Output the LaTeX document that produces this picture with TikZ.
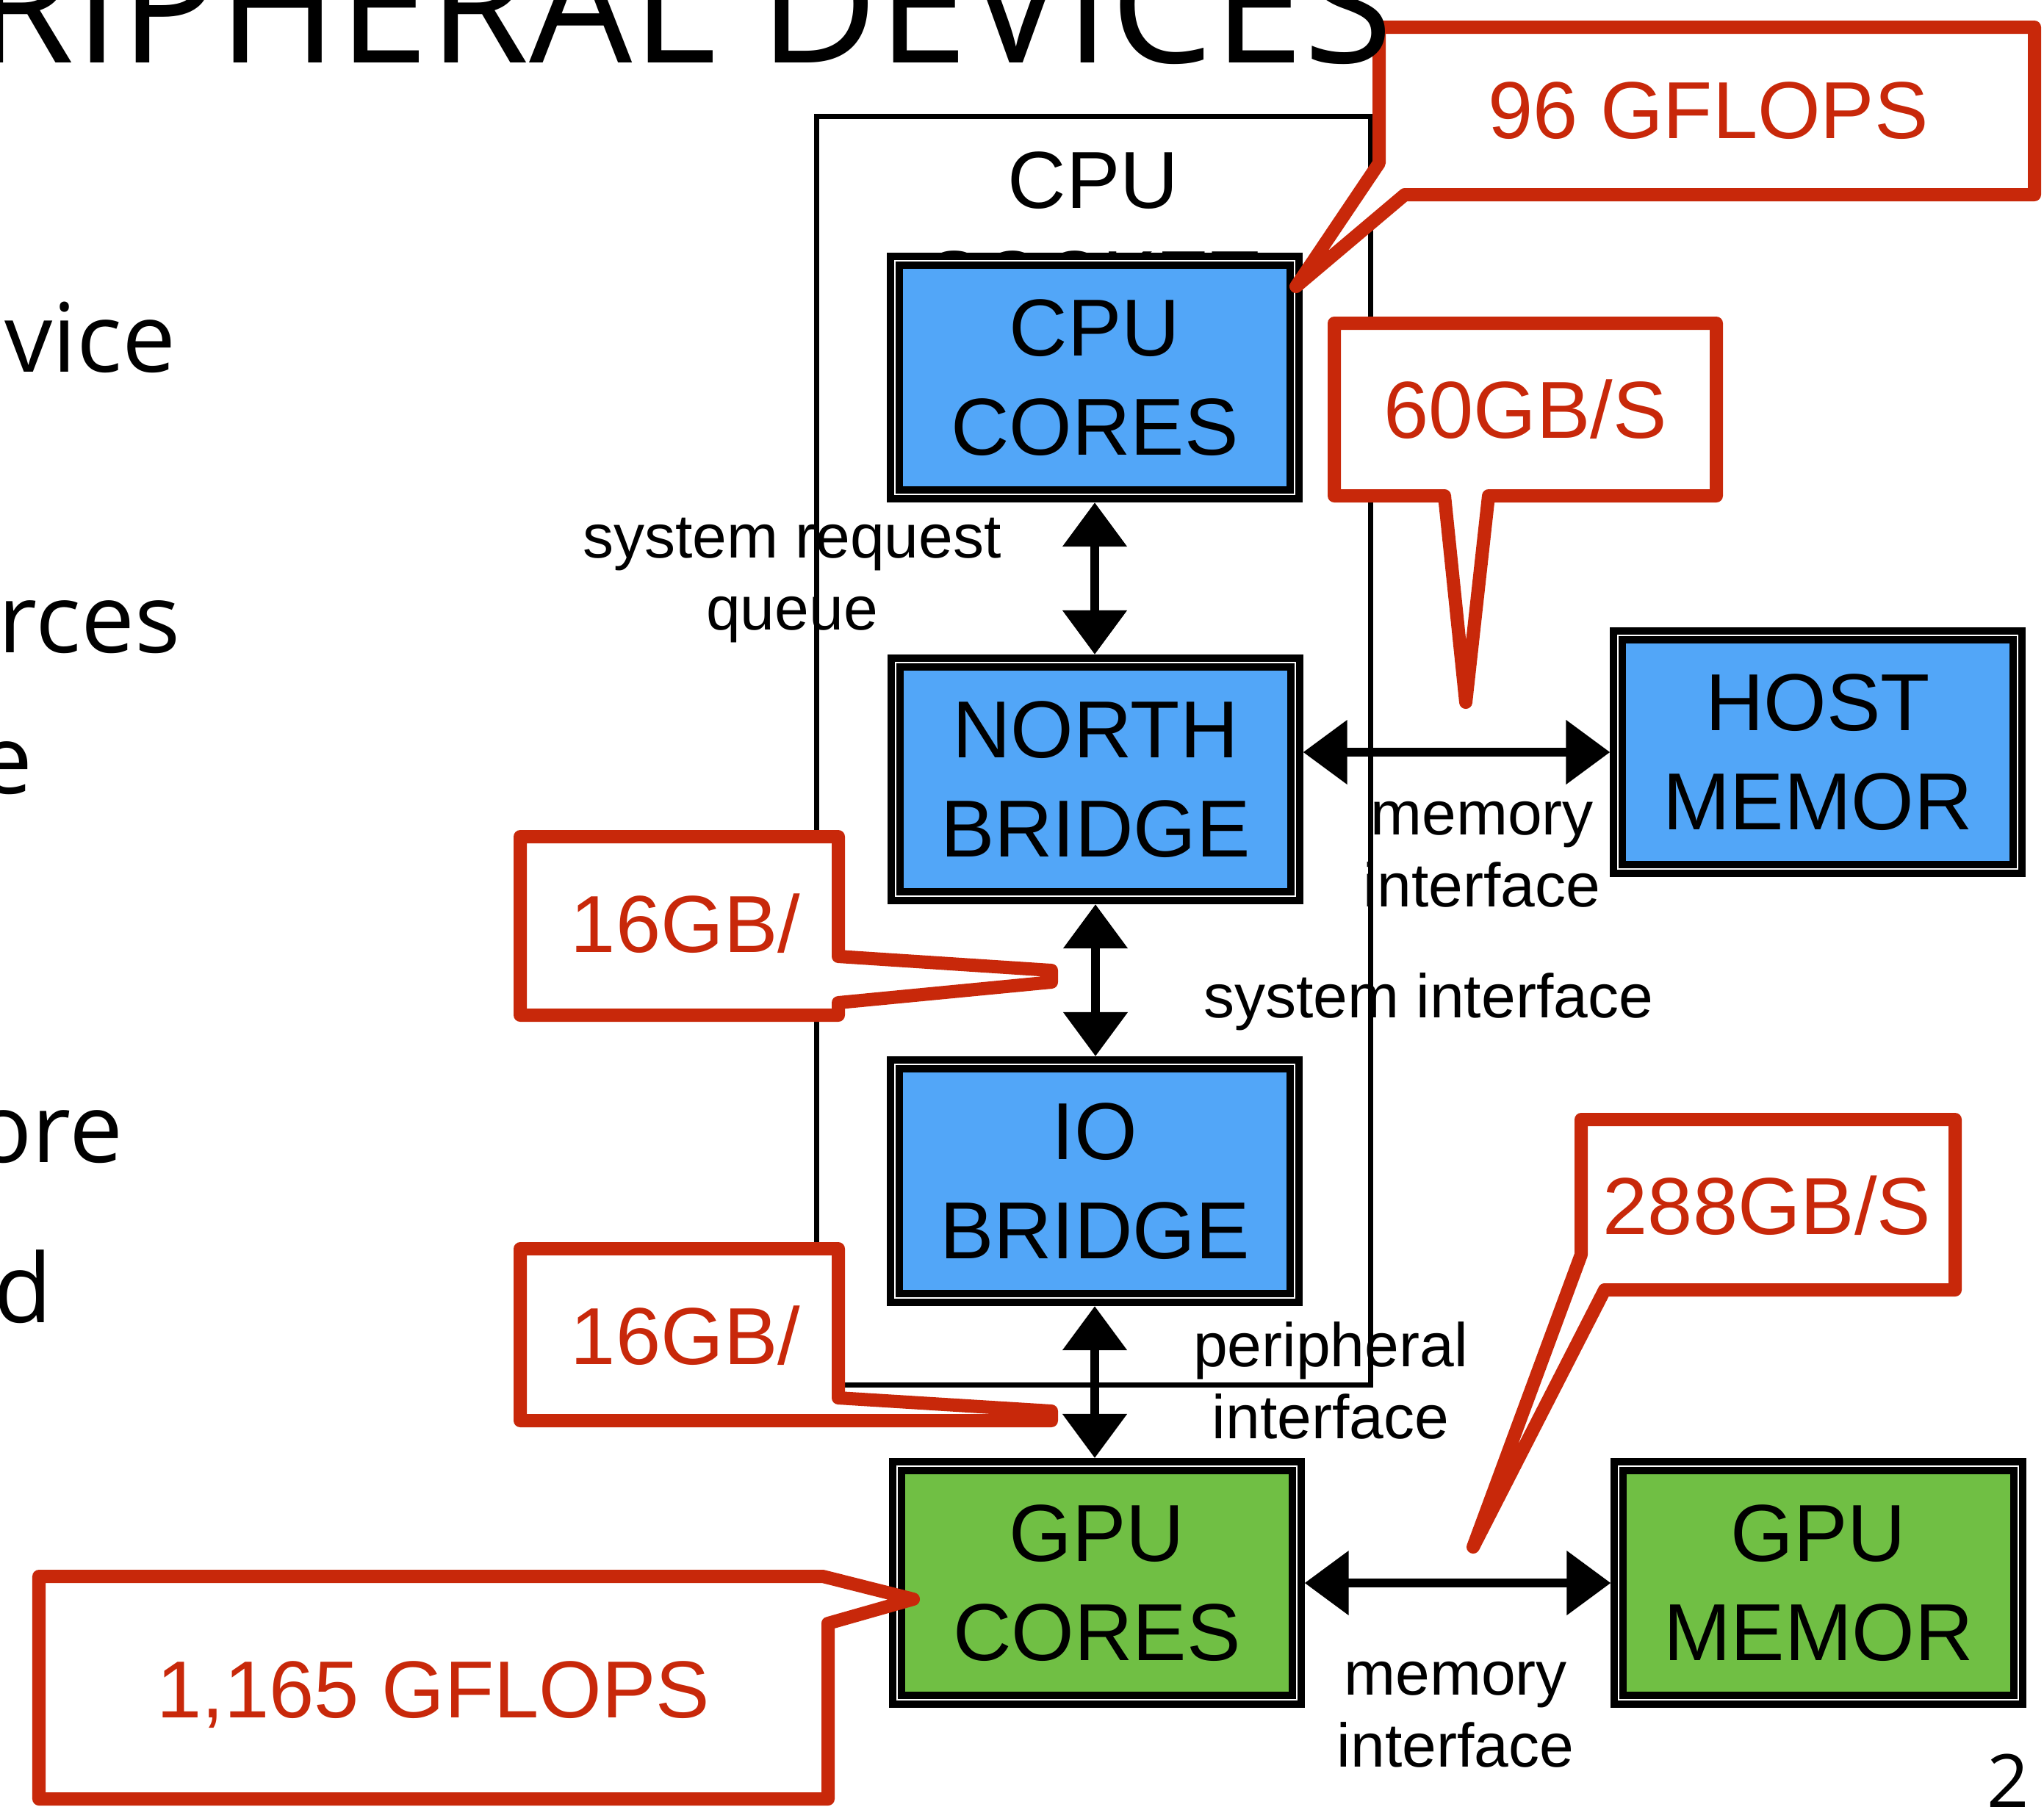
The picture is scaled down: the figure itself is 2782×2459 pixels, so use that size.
\documentclass[tikz,border=0pt]{standalone}
\usepackage{fontspec}
\setmainfont{Liberation Sans}
\newfontfamily\slidefont{Open Sans}
\usetikzlibrary{arrows.meta}
\definecolor{cpublue}{RGB}{82,166,248}
\definecolor{gpugreen}{RGB}{112,191,68}
\definecolor{callred}{RGB}{200,40,10}
\newcommand\myhwfont{\fontsize{31.3pt}{38.4pt}\selectfont}
\newcommand\mylblfont{\fontsize{23.9pt}{27.9pt}\selectfont}
\newcommand\myfragfont{\slidefont\fontsize{37pt}{44pt}\selectfont}
\newcommand\myttlfont{\slidefont\fontsize{63pt}{74pt}\selectfont}
\newcommand\mypgfont{\slidefont\fontsize{28.5pt}{34pt}\selectfont}
\tikzset{
  hwbox/.style={draw=black, line width=0.1cm, double=white, double distance=0.02cm,
    minimum width=5.43cm, minimum height=3.18cm, inner sep=0, outer sep=0.11cm,
    align=center, font=\myhwfont, execute at begin node={\rule{0pt}{1.13cm}}},
  bluebox/.style={hwbox, fill=cpublue},
  greenbox/.style={hwbox, fill=gpugreen},
  hwtext/.style={inner sep=0, align=center, font=\myhwfont},
  lbl/.style={inner sep=0, align=center, font=\mylblfont},
  socketbox/.style={draw=black, line width=0.07cm, inner sep=0},
  biarrow/.style={line width=0.12cm,
    {Triangle[length=0.6cm,width=0.85cm]}-{Triangle[length=0.6cm,width=0.85cm]}},
  callout/.style={draw=callred, line width=0.18cm, fill=white, line join=round},
  caltext/.style={text=callred, inner sep=0, font=\myhwfont, anchor=base},
  frag/.style={inner sep=0, anchor=base east, font=\myfragfont},
}
\begin{document}
\begin{tikzpicture}[x=0.01cm, y=-0.01cm]
\useasboundingbox (0,0) rectangle (2782,2459);

% labels of the links
\node[lbl] (sysreq) at (1078,790) {system request\\queue};
\node[lbl] (memif1) at (2017,1163) {memory\\interface};
\node[lbl, anchor=base] (sysif) at (1944,1385) {system interface};
\node[lbl] (perif) at (1811,1879) {peripheral\\interface};
\node[lbl] (memif2) at (1981,2334) {memory\\interface};

% CPU socket
\node[socketbox, minimum width=7.53cm, minimum height=17.26cm] (socket) at (1488.5,1022) {};
\node[hwtext] (socklbl) at (1488,313) {CPU\\SOCKET};

% hardware blocks
\node[bluebox] (cpu) at (1490,514) {CPU\\CORES};
\node[bluebox] (nb) at (1491,1061) {NORTH\\BRIDGE};
\node[bluebox] (io) at (1490,1608) {IO\\BRIDGE};
\node[greenbox] (gpu) at (1493,2155) {GPU\\CORES};
\node[bluebox] (host) at (2474,1024) {HOST\\MEMOR};
\node[greenbox] (gmem) at (2475,2155) {GPU\\MEMOR};

% links
\draw[biarrow] (cpu.south) -- (cpu.south |- nb.north);
\draw[biarrow] (nb.south) -- (nb.south |- io.north);
\draw[biarrow] (io.south) -- (io.south |- gpu.north);
\draw[biarrow] (nb.east |- host.west) -- (host.west);
\draw[biarrow] (gpu.east) -- (gmem.west);

% callouts
\draw[callout] (1877,37) -- (2769,37) -- (2769,265) -- (1912,265)
  -- (1764,390) coordinate (tip96) -- (1877,222) -- cycle;
\node[caltext] (c96) at (2325,188) {96 GFLOPS};

\draw[callout] (1816,440) -- (2336,440) -- (2336,675) -- (2026,675)
  -- (1995,956) coordinate (tip60) -- (1966,675) -- (1816,675) -- cycle;
\node[caltext] (c60) at (2076,596) {60GB/S};

\draw[callout] (708,1139) -- (1141,1139) -- (1141,1302) -- (1431,1321)
  -- (1431,1337) coordinate (tip16a) -- (1141,1365) -- (1141,1382) -- (708,1382) -- cycle;
\node[caltext] (c16a) at (933,1296) {16GB/};

\draw[callout] (708,1700) -- (1141,1700) -- (1141,1903) -- (1431,1921)
  coordinate (tip16b) -- (1431,1934) -- (708,1934) -- cycle;
\node[caltext] (c16b) at (933,1857) {16GB/};

\draw[callout] (2152,1524) -- (2661,1524) -- (2661,1756) -- (2184,1756)
  -- (2005,2106) coordinate (tip288) -- (2152,1708) -- cycle;
\node[caltext] (c288) at (2405,1680) {288GB/S};

\draw[callout] (53,2146) -- (1120,2146) -- (1243,2177) coordinate (tip1165)
  -- (1127,2210) -- (1127,2449) -- (53,2449) -- cycle;
\node[caltext] (c1165) at (590,2338) {1,165 GFLOPS};

% slide title and cut-off slide text
\node[inner sep=0, anchor=base east, font=\myttlfont] (title) at (1897,85) {RIPHERAL DEVICES};
\node[frag] (f1) at (240,506) {vice};
\node[frag] (f2) at (246,888) {rces};
\node[frag] (f3) at (45,1080) {e};
\node[frag] (f4) at (168,1582) {ore};
\node[frag] (f5) at (72,1800) {d};
\node[inner sep=0, anchor=base east, font=\mypgfont] (pg) at (2762,2460) {2};
\end{tikzpicture}
\end{document}
